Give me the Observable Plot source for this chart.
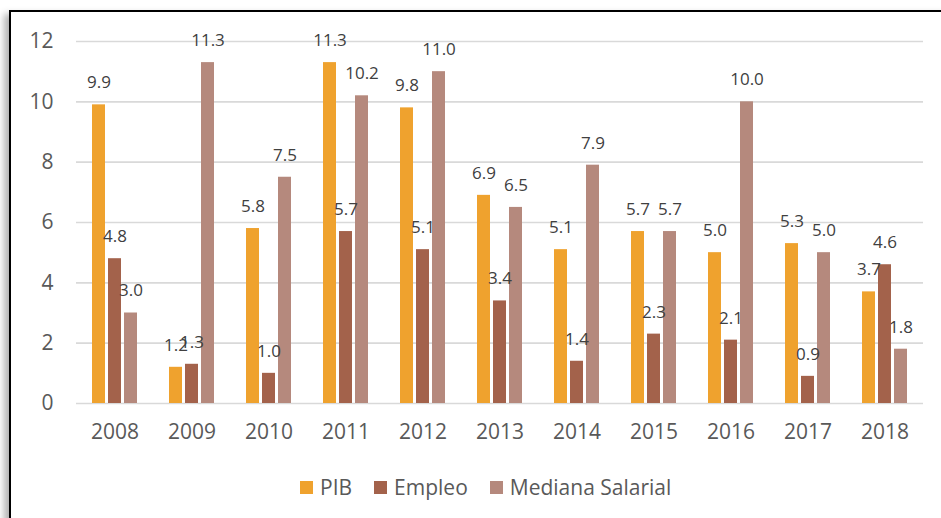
<!DOCTYPE html>
<html>
<head>
<meta charset="utf-8">
<script src="https://cdn.jsdelivr.net/npm/d3@7"></script>
<script src="https://cdn.jsdelivr.net/npm/@observablehq/plot@0.6"></script>
<style>
  html, body { margin: 0; padding: 0; background: #fff; overflow: hidden; width: 941px; height: 518px; }
  .frame { position: absolute; left: 9px; top: 10px; width: 1000px; height: 600px; border: 2px solid #000; box-shadow: -5px 4px 7px rgba(0,0,0,0.3); background: #fff; }
  #chart { position: absolute; left: 0; top: 0; }
  .legend { position: absolute; left: 300px; top: 473px; display: flex; align-items: center; font-family: "Open Sans", sans-serif; font-size: 21px; color: #595959; }
  .legend .item { display: flex; align-items: center; margin-right: 22px; }
  .legend .sw { width: 13px; height: 13px; margin-right: 7px; }
</style>
</head>
<body>
<div class="frame"></div>
<div id="chart"></div>
<div class="legend" id="legend"></div>
<script>
const years = ["2008","2009","2010","2011","2012","2013","2014","2015","2016","2017","2018"];
const series = ["PIB", "Empleo", "Mediana Salarial"];
const pib = [9.9, 1.2, 5.8, 11.3, 9.8, 6.9, 5.1, 5.7, 5.0, 5.3, 3.7];
const empleo = [4.8, 1.3, 1.0, 5.7, 5.1, 3.4, 1.4, 2.3, 2.1, 0.9, 4.6];
const mediana = [3.0, 11.3, 7.5, 10.2, 11.0, 6.5, 7.9, 5.7, 10.0, 5.0, 1.8];
const yTicks = [0, 2, 4, 6, 8, 10, 12];
const colors = ["#EFA22E", "#A3624B", "#B5897D"];

const values = [pib, empleo, mediana];
const data = [];
years.forEach((yr, i) => {
  series.forEach((s, j) => data.push({year: yr, series: s, value: values[j][i]}));
});

const fmt = d3.format(".1f");

const chart = Plot.plot({
  width: 941,
  height: 460,
  marginLeft: 74,
  marginRight: 16,
  marginTop: 41,
  marginBottom: 57,
  style: {background: "transparent", fontFamily: "'Open Sans', sans-serif", fontSize: "21px", color: "#595959"},
  fx: {domain: years, padding: 0, label: null, axis: "bottom", tickSize: 0, tickPadding: 21},
  x: {domain: series, paddingInner: 0.18, paddingOuter: 0.9, axis: null},
  y: {domain: [0, 12], ticks: yTicks, label: null, tickSize: 0, tickPadding: 23},
  color: {domain: series, range: colors},
  marks: [
    Plot.gridY(yTicks, {stroke: "#d9d9d9", strokeOpacity: 1, strokeWidth: 1.6}),
    Plot.barY(data, {fx: "year", x: "series", y: "value", fill: "series"}),
    Plot.text(data, {fx: "year", x: "series", y: "value", text: d => fmt(d.value), dy: -22, fill: "#404040", fontSize: 17})
  ]
});
document.getElementById("chart").appendChild(chart);

const legend = document.getElementById("legend");
series.forEach((s, i) => {
  const item = document.createElement("div");
  item.className = "item";
  const sw = document.createElement("span");
  sw.className = "sw";
  sw.style.background = colors[i];
  const t = document.createElement("span");
  t.textContent = s;
  item.appendChild(sw);
  item.appendChild(t);
  legend.appendChild(item);
});
</script>
</body>
</html>
